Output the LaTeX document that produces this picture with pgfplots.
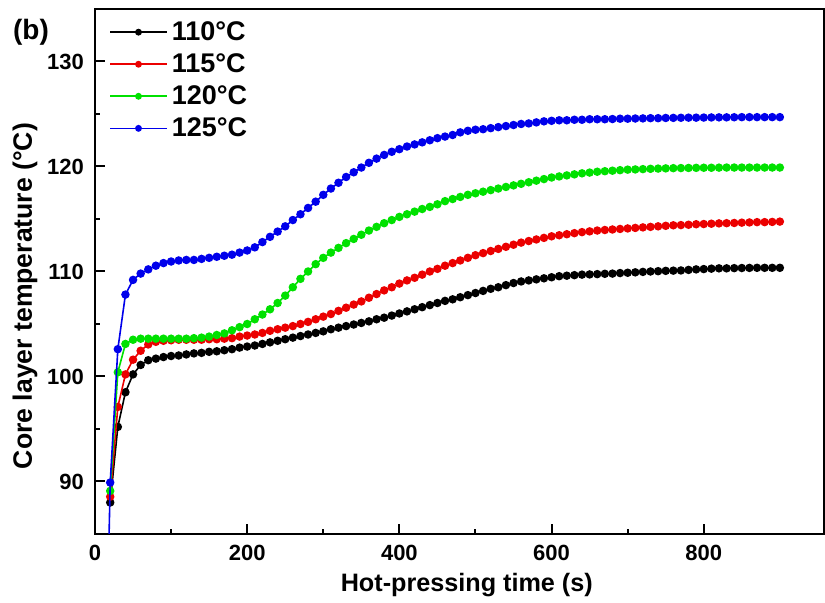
\documentclass[border=0pt]{standalone}
\usepackage{pgfplots}
\usepackage{pgfplotstable}
\pgfplotsset{compat=1.18}
\usepackage{fontspec}
\setmainfont{Liberation Sans}
\definecolor{cred}{RGB}{235,0,0}
\definecolor{cgreen}{RGB}{0,225,0}
\definecolor{cblue}{RGB}{0,0,235}

\pgfplotstableread{
t T
20 88.0
30 95.2
40 98.5
50 100.2
60 101.1
70 101.55
80 101.7
90 101.85
100 101.95
110 102.0
120 102.1
130 102.2
140 102.25
150 102.35
160 102.4
170 102.5
180 102.6
190 102.75
200 102.85
210 102.95
220 103.1
230 103.25
240 103.4
250 103.55
260 103.7
270 103.85
280 104.0
290 104.15
300 104.3
310 104.5
320 104.65
330 104.8
340 104.95
350 105.1
360 105.25
370 105.45
380 105.6
390 105.8
400 106.0
410 106.2
420 106.4
430 106.6
440 106.8
450 107.0
460 107.2
470 107.35
480 107.55
490 107.75
500 107.95
510 108.15
520 108.35
530 108.5
540 108.7
550 108.9
560 109.05
570 109.15
580 109.25
590 109.35
600 109.45
610 109.55
620 109.6
630 109.65
640 109.7
650 109.72
660 109.75
670 109.78
680 109.8
690 109.85
700 109.88
710 109.92
720 109.96
730 110.0
740 110.03
750 110.06
760 110.08
770 110.1
780 110.15
790 110.2
800 110.23
810 110.27
820 110.3
830 110.3
840 110.32
850 110.33
860 110.34
870 110.35
880 110.35
890 110.35
900 110.35
}\dataA

\pgfplotstableread{
t T
20 88.55
30 97.1
40 100.2
50 101.6
60 102.45
70 103.05
80 103.3
90 103.4
100 103.45
110 103.5
120 103.5
130 103.5
140 103.5
150 103.55
160 103.55
170 103.6
180 103.65
190 103.8
200 103.9
210 104.0
220 104.15
230 104.35
240 104.5
250 104.65
260 104.8
270 105.0
280 105.2
290 105.45
300 105.7
310 105.95
320 106.25
330 106.55
340 106.85
350 107.15
360 107.5
370 107.85
380 108.2
390 108.5
400 108.85
410 109.15
420 109.4
430 109.7
440 110.0
450 110.25
460 110.55
470 110.8
480 111.05
490 111.3
500 111.55
510 111.75
520 111.95
530 112.15
540 112.35
550 112.55
560 112.75
570 112.9
580 113.05
590 113.2
600 113.35
610 113.45
620 113.55
630 113.65
640 113.75
650 113.82
660 113.9
670 113.95
680 114.0
690 114.05
700 114.1
710 114.15
720 114.2
730 114.25
740 114.3
750 114.35
760 114.4
770 114.42
780 114.45
790 114.5
800 114.52
810 114.55
820 114.58
830 114.6
840 114.62
850 114.65
860 114.67
870 114.7
880 114.7
890 114.72
900 114.75
}\dataB

\pgfplotstableread{
t T
20 89.1
30 100.4
40 103.1
50 103.5
60 103.6
70 103.6
80 103.6
90 103.6
100 103.6
110 103.6
120 103.6
130 103.65
140 103.7
150 103.8
160 103.95
170 104.1
180 104.4
190 104.7
200 105.0
210 105.45
220 105.9
230 106.4
240 107.0
250 107.7
260 108.5
270 109.3
280 110.0
290 110.7
300 111.3
310 111.8
320 112.25
330 112.7
340 113.1
350 113.5
360 113.9
370 114.25
380 114.6
390 114.9
400 115.2
410 115.45
420 115.7
430 115.95
440 116.15
450 116.4
460 116.7
470 116.9
480 117.1
490 117.3
500 117.45
510 117.6
520 117.75
530 117.9
540 118.05
550 118.2
560 118.35
570 118.5
580 118.65
590 118.8
600 118.95
610 119.05
620 119.15
630 119.25
640 119.35
650 119.42
660 119.5
670 119.55
680 119.6
690 119.65
700 119.7
710 119.72
720 119.75
730 119.78
740 119.8
750 119.82
760 119.84
770 119.85
780 119.86
790 119.87
800 119.88
810 119.88
820 119.89
830 119.9
840 119.9
850 119.9
860 119.9
870 119.9
880 119.9
890 119.9
900 119.9
}\dataC

\pgfplotstableread{
t T
10 57.0
20 89.9
30 102.6
40 107.8
50 109.2
60 109.8
70 110.2
80 110.55
90 110.8
100 110.95
110 111.05
120 111.1
130 111.1
140 111.2
150 111.3
160 111.4
170 111.5
180 111.6
190 111.8
200 112.0
210 112.3
220 112.8
230 113.3
240 113.8
250 114.3
260 114.9
270 115.45
280 116.05
290 116.65
300 117.3
310 117.9
320 118.45
330 119.0
340 119.45
350 119.9
360 120.35
370 120.75
380 121.1
390 121.4
400 121.65
410 121.9
420 122.1
430 122.3
440 122.5
450 122.7
460 122.85
470 123.0
480 123.25
490 123.4
500 123.5
510 123.55
520 123.65
530 123.75
540 123.85
550 123.95
560 124.05
570 124.1
580 124.2
590 124.3
600 124.35
610 124.4
620 124.4
630 124.45
640 124.45
650 124.5
660 124.5
670 124.5
680 124.52
690 124.55
700 124.55
710 124.57
720 124.58
730 124.6
740 124.6
750 124.62
760 124.63
770 124.64
780 124.65
790 124.65
800 124.66
810 124.67
820 124.68
830 124.68
840 124.69
850 124.7
860 124.7
870 124.7
880 124.7
890 124.7
900 124.7
}\dataD

\begin{document}
\begin{tikzpicture}
\path[use as bounding box] (-47.5pt,-34.5pt) rectangle (365pt,267pt);
\begin{axis}[
  name=ax,
  scale only axis, width=364.5pt, height=262.5pt,
  xmin=0, xmax=958, ymin=85, ymax=135,
  xtick={0,200,400,600,800}, ytick={90,100,110,120,130},
  minor x tick num=1, minor y tick num=1,
  xtick pos=lower, ytick pos=lower,
  tick align=inside,
  major tick length=5pt, minor tick length=2.5pt,
  axis line style={line width=1pt},
  every tick/.style={black, line width=1pt},
  /pgf/number format/assume math mode=true,
  ticklabel style={font=\bfseries\fontsize{11}{13}\selectfont},
  xticklabel style={yshift=-2pt},
  yticklabel style={xshift=-2pt},
  xlabel={Hot-pressing time (s)},
  label style={font=\bfseries\fontsize{12.6}{15}\selectfont},
  xlabel style={at={(axis description cs:0.51,-0.098)}, anchor=center},
  clip marker paths=true,
  every axis plot/.append style={line width=0.8pt, mark=*, mark size=1.7pt},
  legend style={at={(axis description cs:0.019,0.985)}, anchor=north west,
    draw=none, fill=none, inner sep=0pt, row sep=1.1pt,
    font=\bfseries\fontsize{13.5}{15}\selectfont},
  legend cell align=left,
  legend image code/.code={\draw[mark repeat=2,mark phase=2,#1,mark size=1.3pt] plot coordinates {(0cm,0cm) (0.5cm,0cm) (1cm,0cm)};},
]
\addplot[black, mark options={fill=black}] table[x=t,y=T] {\dataA};
\addlegendentry{110°C}
\addplot[cred, mark options={fill=cred}] table[x=t,y=T] {\dataB};
\addlegendentry{115°C}
\addplot[cgreen, mark options={fill=cgreen}] table[x=t,y=T] {\dataC};
\addlegendentry{120°C}
\addplot[cblue, mark options={fill=cblue}] table[x=t,y=T] {\dataD};
\addlegendentry{125°C}
\end{axis}
\node[font=\bfseries\fontsize{14}{16}\selectfont, xshift=-32pt, yshift=-11.5pt] at (ax.north west) {(b)};
\node[font=\bfseries\fontsize{13.3}{15}\selectfont, xshift=-35pt, yshift=-12.25pt, rotate=90, anchor=center] at (ax.west) {Core layer temperature (°C)};
\end{tikzpicture}
\end{document}
